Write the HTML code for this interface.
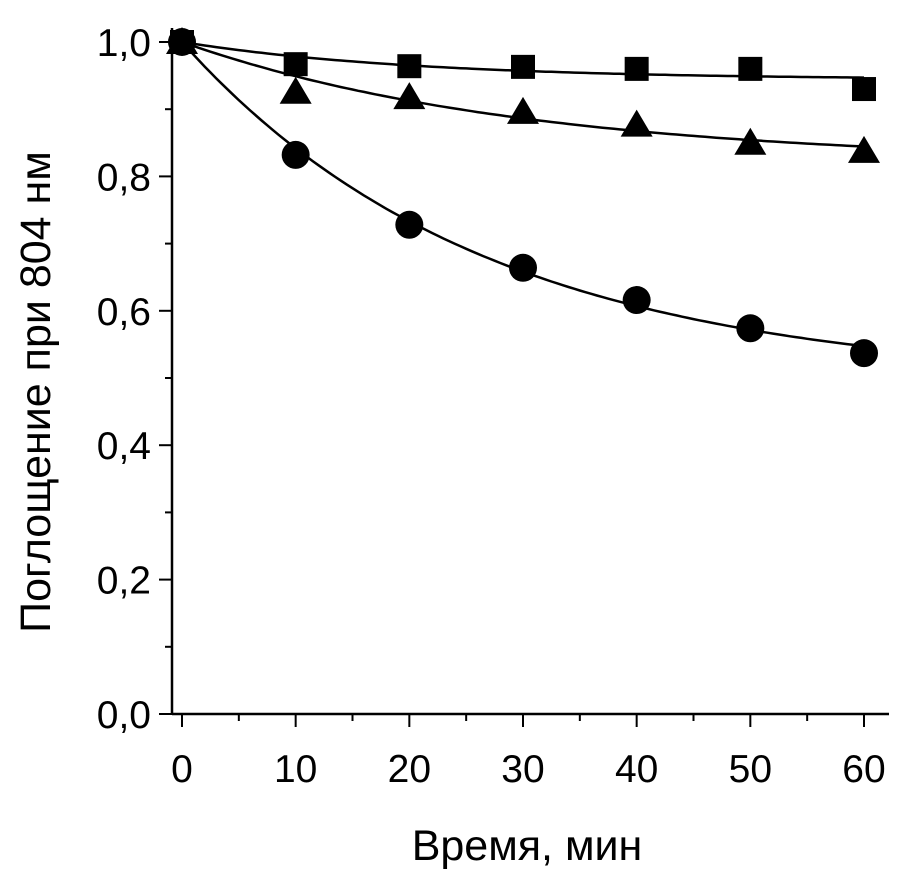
<!DOCTYPE html>
<html><head><meta charset="utf-8"><style>
html,body{margin:0;padding:0;background:#fff;}
svg text{font-family:"Liberation Sans",sans-serif;fill:#000;}
</style></head><body>
<svg id="chart" width="900" height="881" viewBox="0 0 900 881" xmlns="http://www.w3.org/2000/svg">
<g id="axes"></g>
<g id="curves"></g>
<g id="marks"></g>
<text x="0" y="0" font-size="43" text-anchor="middle" transform="translate(50,392) rotate(-90)">Поглощение при 804 нм</text>
<text x="527" y="860" font-size="43" text-anchor="middle">Время, мин</text>
</svg>
<script>
const times = [0,10,20,30,40,50,60];
const squareValues = [1.0,0.967,0.964,0.963,0.960,0.960,0.930];
const triangleValues = [1.0,0.926,0.918,0.896,0.877,0.850,0.838];
const circleValues = [1.0,0.832,0.728,0.664,0.616,0.574,0.537];
const xTicks = [0,10,20,30,40,50,60];
const yTicks = [0,0.2,0.4,0.6,0.8,1.0];
const yTickLabels = ["0,0","0,2","0,4","0,6","0,8","1,0"];

const NS="http://www.w3.org/2000/svg";
const X=v=>182+v*(864-182)/60;
const Y=v=>714-v*672;
function el(tag,attrs,parent){const e=document.createElementNS(NS,tag);for(const k in attrs)e.setAttribute(k,attrs[k]);parent.appendChild(e);return e;}
const axes=document.getElementById('axes');
let a=el('line',{x1:172,y1:714,x2:889,y2:714,stroke:'#000','stroke-width':2.5},axes);


a=el('line',{x1:172,y1:714,x2:172,y2:28,stroke:'#000','stroke-width':2.5},axes);


for(let v=0;v<=60;v+=5){const major=v%10===0;
 const t=el('line',{x1:X(v),x2:X(v),y1:714,y2:714+(major?13:7),stroke:'#000','stroke-width':2},axes);
 
 }
xTicks.forEach(v=>{const t=el('text',{x:X(v),y:782,'font-size':39,'text-anchor':'middle'},axes);t.textContent=String(v);
 
 });
for(let i=0;i<=10;i++){const v=i/10;const major=i%2===0;
 const t=el('line',{x1:172,x2:172-(major?13:7),y1:Y(v),y2:Y(v),stroke:'#000','stroke-width':2},axes);
 
 }
yTicks.forEach((v,i)=>{const t=el('text',{x:151,y:Y(v)+14,'font-size':39,'text-anchor':'end'},axes);t.textContent=yTickLabels[i];
 
 });

function fit(vals){let best=null;
 for(let c=0;c<=1;c+=0.002)for(let k=0.002;k<=0.3;k*=1.02){let e=0;
  times.forEach((t,i)=>{const d=c+(1-c)*Math.exp(-k*t)-vals[i];e+=d*d;});
  if(!best||e<best.e)best={c,k,e};}
 return t=>best.c+(1-best.c)*Math.exp(-best.k*t);}
const curves=document.getElementById('curves');
[[squareValues,'square-fit'],[triangleValues,'triangle-fit'],[circleValues,'circle-fit']].forEach(([vals,name])=>{
 const f=fit(vals);let d='';for(let t=0;t<=60;t+=0.5)d+=(t?'L':'M')+X(t).toFixed(1)+' '+Y(f(t)).toFixed(1);
 const p=el('path',{d,fill:'none',stroke:'#000','stroke-width':2.5},curves);
 
 });
const marks=document.getElementById('marks');
times.forEach((t,i)=>{const x=X(t);
 let y=Y(circleValues[i]);
 let m=el('circle',{cx:x,cy:y,r:14,fill:'#000'},marks);
 
 
 y=Y(squareValues[i]);
 m=el('rect',{x:x-12,y:y-12,width:24,height:24,fill:'#000'},marks);
 
 
 y=Y(triangleValues[i]);
 m=el('polygon',{points:`${x-16},${y+12} ${x+16},${y+12} ${x},${y-15}`,fill:'#000'},marks);
 
 
});
</script>
</body></html>
